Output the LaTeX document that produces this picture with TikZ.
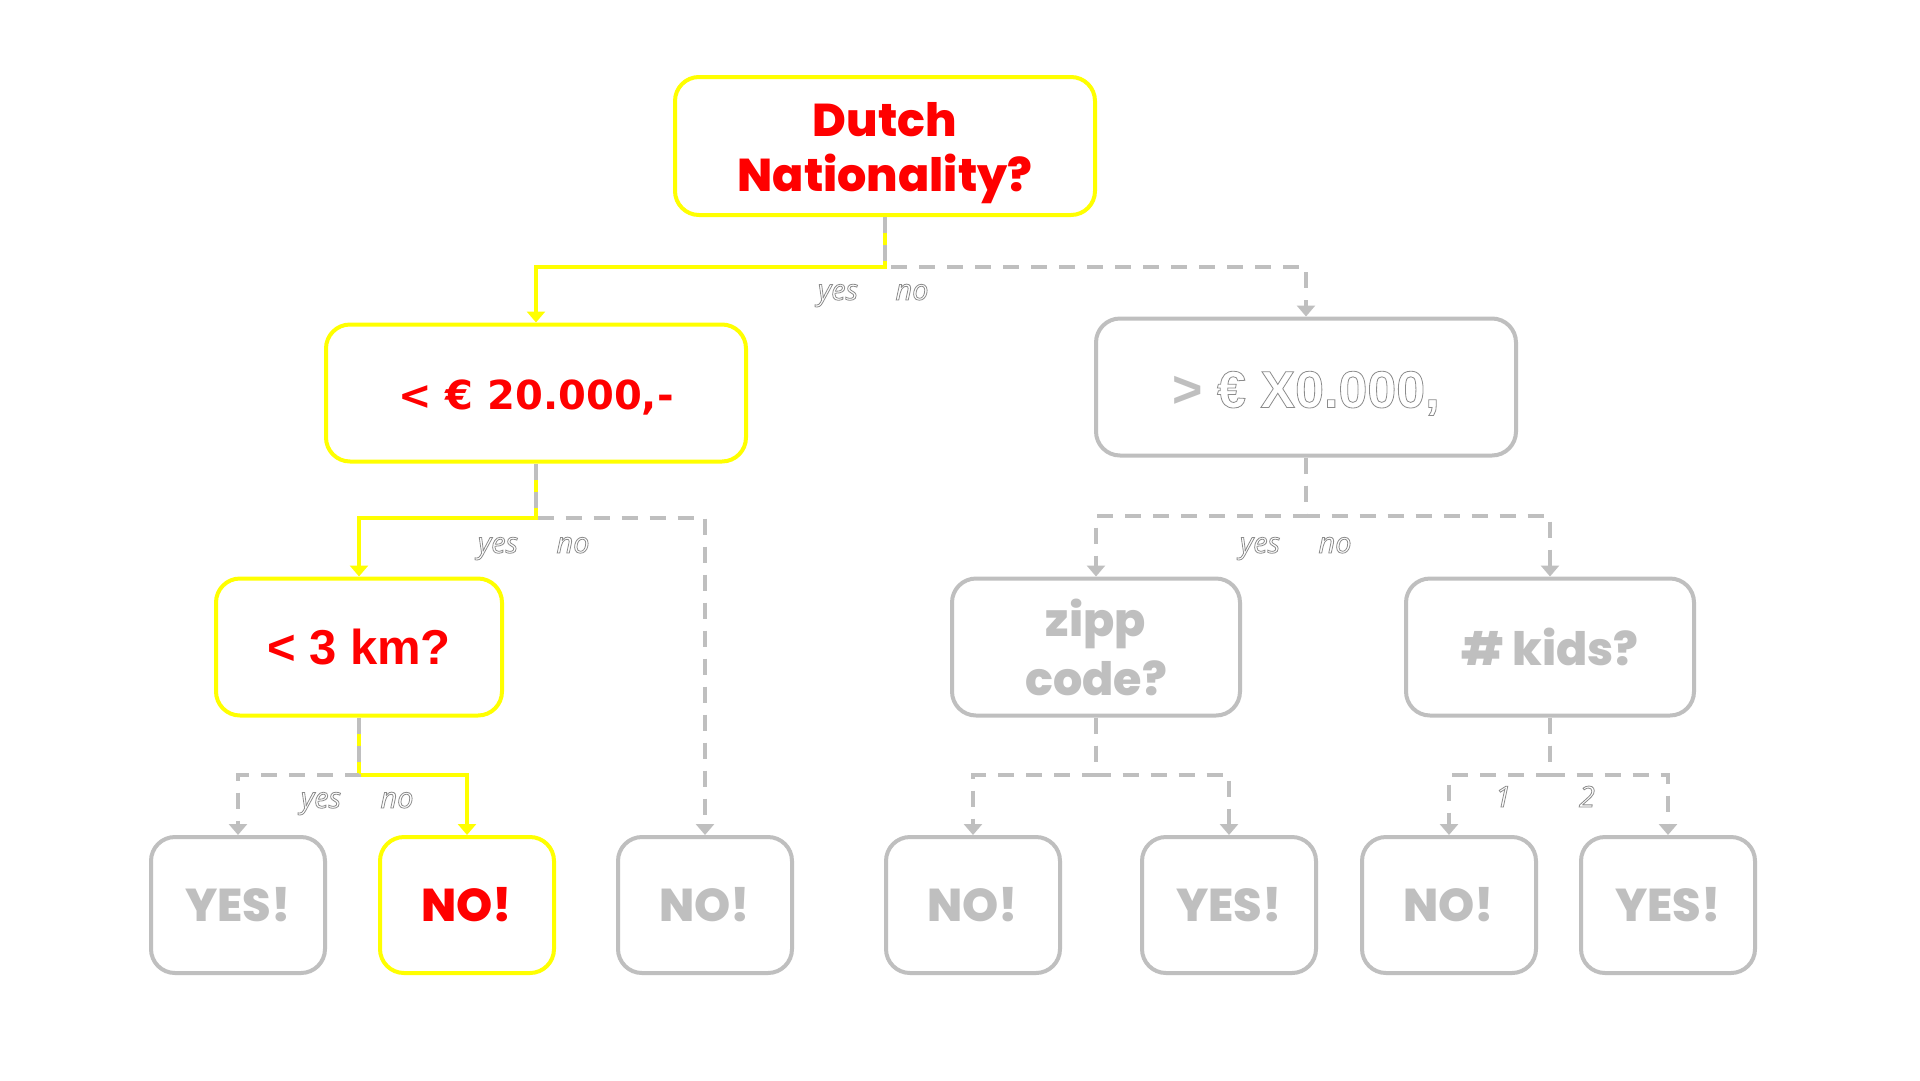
\documentclass[tikz,border=0pt]{standalone}
\usepackage{fontspec}
\usetikzlibrary{arrows.meta}
\newfontfamily\popfont{Poppins}
\newfontfamily\popheavy{Poppins ExtraBold}
\newfontfamily\dvfont{DejaVu Sans}
\newfontfamily\libfont{Liberation Sans}
\newfontfamily\osfont{Open Sans}
\definecolor{lg}{HTML}{BFBFBF}
\definecolor{yl}{HTML}{FFFF00}
\definecolor{rd}{HTML}{FF0000}
\newcommand\outlinetext[1]{\special{pdf:literal direct 0.55 0.55 0.55 RG 0.8 w 2 Tr}#1\special{pdf:literal direct 0 Tr}}
\begin{document}
\begin{tikzpicture}[x=1pt,y=-1pt,
  box/.style={draw, line width=4pt, rounded corners=24pt, inner sep=0pt, align=center, fill=white},
  hot/.style={box, draw=yl, text=rd},
  cold/.style={box, draw=lg, text=lg},
  leafbox/.style={minimum width=174pt, minimum height=136pt, font=\popheavy\fontsize{46}{52}\selectfont},
  midbox/.style={minimum width=288pt, minimum height=137pt},
  bigbox/.style={minimum width=420pt, minimum height=137pt},
  yline/.style={draw=yl, line width=3.5pt, -{Triangle[width=18pt,length=11pt]}},
  gline/.style={draw=lg, line width=3.5pt, dash pattern=on 16pt off 12pt, -{Triangle[width=18pt,length=11pt]}},
  lab/.style={font=\osfont\itshape\fontsize{29}{32}\selectfont, anchor=base, inner sep=0pt, text=white},
]
\fill[white] (0,0) rectangle (1920,1080);
\useasboundingbox (0,0) rectangle (1920,1080);

% nodes
\node[hot, bigbox, minimum height=138pt] (dutch) at (885,146) {};
\node[text=rd, align=center, inner sep=0pt, font=\popheavy\fontsize{46}{55}\selectfont] (dutchtxt) at (885,153) {Dutch\\Nationality?};
\node[hot, bigbox, text height=36pt, text depth=3pt, font=\dvfont\bfseries\fontsize{40}{48}\selectfont] (inc) at (536,393) {< € 20.000,-};
\node[cold, bigbox, text height=45pt, text depth=4pt, font=\libfont\bfseries\fontsize{52}{60}\selectfont] (inc2) at (1306,387) {> {\color{white}\outlinetext{€ X0.000,}}};
\node[hot, midbox, minimum width=286pt, font=\libfont\bfseries\fontsize{49}{56}\selectfont] (km) at (359,647) {< 3 km?};
\node[cold, midbox, font=\popheavy\fontsize{46}{59}\selectfont] (zip) at (1096,647) {zipp\\code?};
\node[cold, midbox, font=\popheavy\fontsize{46}{59}\selectfont] (kids) at (1550,647) {\# kids?};

\node[cold, leafbox] (l1) at (238,905) {YES!};
\node[hot, leafbox] (l2) at (467,905) {NO!};
\node[cold, leafbox] (l3) at (705,905) {NO!};
\node[cold, leafbox] (l4) at (973,905) {NO!};
\node[cold, leafbox] (l5) at (1229,905) {YES!};
\node[cold, leafbox] (l6) at (1449,905) {NO!};
\node[cold, leafbox] (l7) at (1668,905) {YES!};

% junctions
\coordinate (j1) at (885,267);
\coordinate (j2) at (536,518);
\coordinate (j3) at (1306,516);
\coordinate (j4) at (359,775);
\coordinate (j5) at (1096,775);
\coordinate (j6) at (1550,775);

% connectors
\draw[yline] (dutch.south) -- (j1) -| (inc.north);
\draw[gline] (dutch.south) -- (j1) -| (inc2.north);

\draw[yline] (inc.south) -- (j2) -| (km.north);
\draw[gline] (inc.south) -- (j2) -| (l3.north);

\draw[gline] (inc2.south) -- (j3) -| (zip.north);
\draw[gline] (inc2.south) -- (j3) -| (kids.north);

\draw[yline] (km.south) -- (j4) -| (l2.north);
\draw[gline] (km.south) -- (j4) -| (l1.north);

\draw[gline] (zip.south) -- (j5) -| (l4.north);
\draw[gline] (zip.south) -- (j5) -| (l5.north);

\draw[gline] (kids.south) -- (j6) -| (l6.north);
\draw[gline] (kids.south) -- (j6) -| (l7.north);

% labels
\node[lab] (t1y) at (838,300) {\outlinetext{yes}};
\node[lab] (t1n) at (912,300) {\outlinetext{no}};
\node[lab] (t2y) at (498,553) {\outlinetext{yes}};
\node[lab] (t2n) at (573,553) {\outlinetext{no}};
\node[lab] (t3y) at (1260,553) {\outlinetext{yes}};
\node[lab] (t3n) at (1335,553) {\outlinetext{no}};
\node[lab] (t4y) at (321,808) {\outlinetext{yes}};
\node[lab] (t4n) at (397,808) {\outlinetext{no}};
\node[lab] (t6a) at (1503,807) {\outlinetext{1}};
\node[lab] (t6b) at (1587,807) {\outlinetext{2}};
\end{tikzpicture}
\end{document}
